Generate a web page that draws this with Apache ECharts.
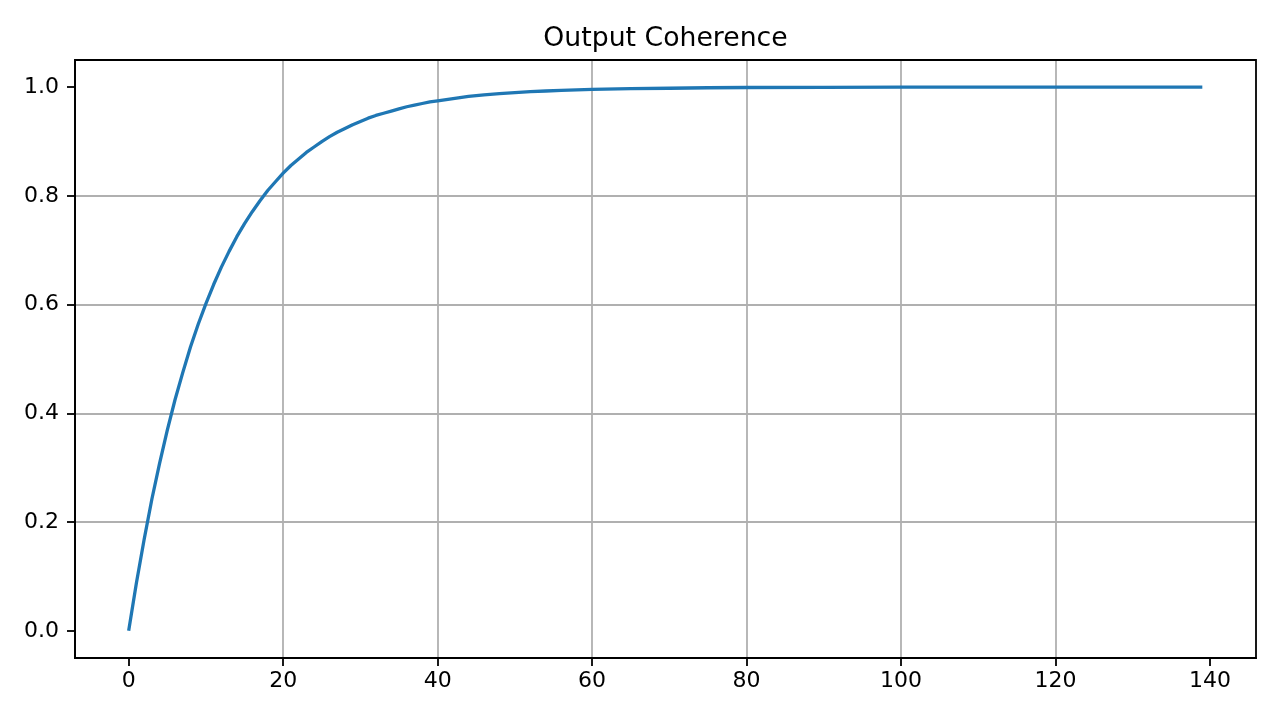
<!DOCTYPE html>
<html>
<head>
<meta charset="utf-8">
<script src="https://cdn.jsdelivr.net/npm/echarts@6/dist/echarts.min.js"></script>
<style>html,body{margin:0;padding:0;background:#fff;}#c{width:1280px;height:720px;}</style>
</head>
<body>
<div id="c"></div>
<script>
var titleText = "Output Coherence";
var xValues = [0,1,2,3,4,5,6,7,8,9,10,11,12,13,14,15,16,17,18,19,20,21,22,23,24,25,26,27,28,29,30,31,32,33,34,35,36,37,38,39,40,42,44,46,48,50,52,54,56,58,60,65,70,75,80,90,100,110,120,130,139];
var yValues = [0,0.088,0.168,0.242,0.308,0.369,0.425,0.475,0.522,0.564,0.602,0.637,0.669,0.698,0.725,0.749,0.771,0.791,0.810,0.826,0.842,0.856,0.868,0.880,0.890,0.900,0.909,0.917,0.924,0.931,0.937,0.943,0.948,0.952,0.956,0.960,0.964,0.967,0.970,0.973,0.975,0.979,0.983,0.986,0.988,0.990,0.992,0.993,0.994,0.995,0.996,0.9975,0.998,0.999,0.9994,0.9998,1.0,1.0,1.0,1.0,1.0];
var xTicks = [0,20,40,60,80,100,120,140];
var yTicks = [0,0.2,0.4,0.6,0.8,1.0];
var xMin = -6.95, xMax = 145.95;
var yMin = -0.05, yMax = 1.05;

var pts = xValues.map(function(x, i){ return [x, yValues[i]]; });
var font = "DejaVu Sans";
var chart = echarts.init(document.getElementById('c'), null, {renderer: 'canvas'});
chart.setOption({
  animation: false,
  backgroundColor: '#ffffff',
  title: {
    text: titleText, left: 660.5, top: 21, textAlign: 'center',
    textStyle: {fontFamily: font, fontSize: 26.7, fontWeight: 'normal', color: '#000'}
  },
  grid: {left: 75, right: 24, top: 60, bottom: 62, show: true, borderColor: '#000', borderWidth: 1.8, backgroundColor: 'transparent', z: 5},
  xAxis: {
    type: 'value', min: xMin, max: xMax, splitNumber: 8,
    axisLine: {show: true, onZero: false, lineStyle: {color: '#000', width: 1.8}},
    axisTick: {show: true, inside: false, length: 8, customValues: xTicks, lineStyle: {color: '#000', width: 1.8}},
    axisLabel: {customValues: xTicks, margin: 12, fontFamily: font, fontSize: 22, color: '#000'},
    splitLine: {show: true, showMinLine: false, showMaxLine: false, lineStyle: {color: '#b0b0b0', width: 1.8}}
  },
  yAxis: {
    type: 'value', min: yMin, max: yMax, splitNumber: 5,
    axisLine: {show: true, onZero: false, lineStyle: {color: '#000', width: 1.8}},
    axisTick: {show: true, inside: false, length: 8, customValues: yTicks, lineStyle: {color: '#000', width: 1.8}},
    axisLabel: {customValues: yTicks, margin: 16, fontFamily: font, fontSize: 22, color: '#000',
      formatter: function(v){ return v.toFixed(1); }},
    splitLine: {show: true, showMinLine: false, showMaxLine: false, lineStyle: {color: '#b0b0b0', width: 1.8}}
  },
  series: [{
    type: 'line', data: pts, smooth: false, symbol: 'none',
    lineStyle: {color: '#1f77b4', width: 3.3, join: 'round', cap: 'butt'}
  }]
});
</script>
</body>
</html>
